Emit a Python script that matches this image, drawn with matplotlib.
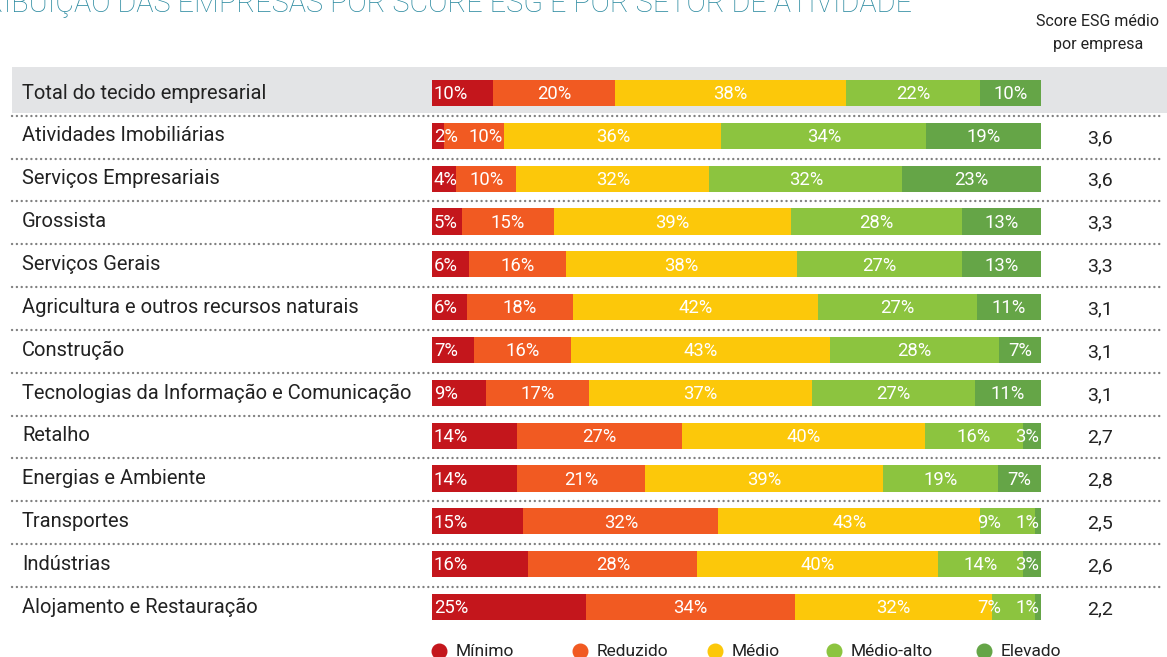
import matplotlib
matplotlib.use("Agg")
import matplotlib.pyplot as plt
import matplotlib.transforms as mtransforms
from matplotlib.patches import Rectangle
from matplotlib.lines import Line2D

plt.rcParams['font.family'] = ['Roboto', 'DejaVu Sans']

# Sectors, share of companies per ESG level (%) and average score
sectors = [
    'Total do tecido empresarial',
    'Atividades Imobiliárias',
    'Serviços Empresariais',
    'Grossista',
    'Serviços Gerais',
    'Agricultura e outros recursos naturais',
    'Construção',
    'Tecnologias da Informação e Comunicação',
    'Retalho',
    'Energias e Ambiente',
    'Transportes',
    'Indústrias',
    'Alojamento e Restauração',
]
minimo    = [10, 2, 4, 5, 6, 6, 7, 9, 14, 14, 15, 16, 25]
reduzido  = [20, 10, 10, 15, 16, 18, 16, 17, 27, 21, 32, 28, 34]
medio     = [38, 36, 32, 39, 38, 42, 43, 37, 40, 39, 43, 40, 32]
medio_alto = [22, 34, 32, 28, 27, 27, 28, 27, 16, 19, 9, 14, 7]
elevado   = [10, 19, 23, 13, 13, 11, 7, 11, 3, 7, 1, 3, 1]
scores = [None, '3,6', '3,6', '3,3', '3,3', '3,1', '3,1', '3,1', '2,7', '2,8', '2,5', '2,6', '2,2']

levels = ['Mínimo', 'Reduzido', 'Médio', 'Médio-alto', 'Elevado']
colors = ['#c4161c', '#f15a22', '#fcc80a', '#8cc43f', '#65a547']

W, H = 1167, 657
fig = plt.figure(figsize=(W / 100, H / 100), dpi=100, facecolor='white')

# bar area: rows are 42.8 px apart, bars span x = 432..1041 px
row_px = 42.83
top_px = 93 - row_px / 2
bot_px = 607 + row_px / 2
ax = fig.add_axes([432 / W, 1 - bot_px / H, 609 / W, (bot_px - top_px) / H])
ax.set_xlim(0, 100)
ax.set_ylim(len(sectors) - 0.5, -0.5)
ax.axis('off')

mix = mtransforms.blended_transform_factory(fig.transFigure, ax.transData)

# grey band behind the total row
ax.add_patch(Rectangle((12 / W, -0.61), 1 - 12 / W, 1.08, transform=mix,
                       facecolor='#e3e4e6', edgecolor='none', clip_on=False, zorder=0))

# dotted separators
for i in range(len(sectors) - 1):
    ax.add_line(Line2D([12 / W, 1162 / W], [i + 0.53, i + 0.53], transform=mix,
                       color='#808080', lw=1.7, linestyle=(0, (0.05, 2.0)),
                       dash_capstyle='round', clip_on=False))

series = list(zip(minimo, reduzido, medio, medio_alto, elevado))
for i, row in enumerate(series):
    total = sum(row)
    left = 0
    for j, v in enumerate(row):
        w = v / total * 100
        ax.barh(i, w, left=left, height=0.61, color=colors[j], zorder=2)
        if j == 0:
            x, ha = left + 0.3, 'left'
        elif j == 1 and row[0] < 4:
            x, ha = left + w - 0.2, 'right'
        elif j == 4 and v <= 3:
            x, ha = 99.7, 'right'
        elif j == 3 and v < 10:
            x, ha = 93.5, 'right'
        else:
            x, ha = left + w / 2, 'center'
        ax.text(x, i + 0.03, f'{v}%', ha=ha, va='center', color='white',
                fontsize=13.3, zorder=3)
        left += w

    ax.text(22 / W, i, sectors[i], transform=mix, ha='left', va='center',
            fontsize=14.5, color='#222222')
    if scores[i]:
        ax.text(1100 / W, i + 0.05, scores[i], transform=mix, ha='center',
                va='center', fontsize=14, color='#222222')

# column header for the score
fig.text(1098 / W, 1 - 22 / H, 'Score ESG médio', ha='center', va='center',
         fontsize=11.5, color='#222222')
fig.text(1098 / W, 1 - 45 / H, 'por empresa', ha='center', va='center',
         fontsize=11.5, color='#222222')

# title, running off the top-left edge
fig.text(912 / W, 1 - 12 / H,
         'DISTRIBUIÇÃO DAS EMPRESAS POR SCORE ESG E POR SETOR DE ATIVIDADE',
         ha='right', va='baseline', fontsize=20.8, fontweight='light',
         color='#2b8aa0')

# legend
leg_x = [439, 580, 715, 834, 984]
for x, name, c in zip(leg_x, levels, colors):
    fig.add_artist(Line2D([x / W], [1 - 651 / H], marker='o', markersize=10.5,
                          color=c, linestyle='none', transform=fig.transFigure))
    fig.text((x + 17) / W, 1 - 651 / H, name, ha='left', va='center',
             fontsize=12.5, color='#222222')

fig.savefig('out.png', dpi=100, facecolor='white')
